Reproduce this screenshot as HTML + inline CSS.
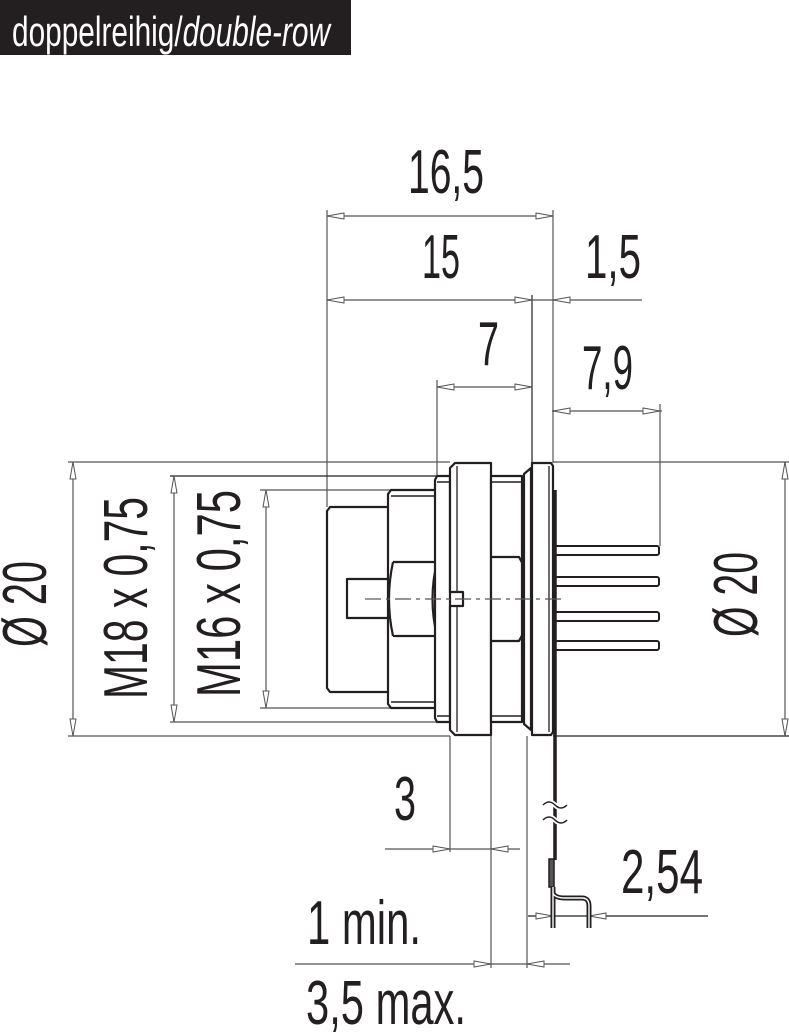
<!DOCTYPE html>
<html><head><meta charset="utf-8"><style>
html,body{margin:0;padding:0;background:#fff;width:789px;height:1034px;overflow:hidden}
svg{display:block}
text{font-family:"Liberation Sans",sans-serif;fill:#231f20}
</style></head><body>
<svg width="789" height="1034" viewBox="0 0 789 1034" xmlns="http://www.w3.org/2000/svg">
<rect x="0" y="0" width="351" height="55" fill="#231f20"/>
<text x="12" y="46" font-size="42" style="fill:#fff" textLength="318" lengthAdjust="spacingAndGlyphs">doppelreihig/<tspan font-style="italic">double-row</tspan></text>

<g stroke="#555" stroke-width="1.2" fill="none">
<line x1="327" y1="210" x2="327" y2="507"/>
<line x1="553" y1="210" x2="553" y2="463"/>
<line x1="532" y1="295" x2="532" y2="463" stroke="#222"/>
<line x1="437" y1="380" x2="437" y2="477"/>
<line x1="660" y1="404" x2="660" y2="546"/>
<line x1="327" y1="216" x2="553" y2="216"/>
<line x1="327" y1="300" x2="532" y2="300"/>
<line x1="532" y1="300" x2="642" y2="300"/>
<line x1="437" y1="387" x2="532" y2="387"/>
<line x1="552" y1="411" x2="662" y2="411"/>
<line x1="68" y1="462" x2="450" y2="462"/>
<line x1="68" y1="736" x2="450" y2="736"/>
<line x1="73" y1="462" x2="73" y2="736"/>
<line x1="170" y1="476" x2="437" y2="476" stroke="#222"/>
<line x1="170" y1="722" x2="437" y2="722"/>
<line x1="174" y1="476" x2="174" y2="722"/>
<line x1="260" y1="490" x2="390" y2="490"/>
<line x1="260" y1="708" x2="390" y2="708"/>
<line x1="266" y1="490" x2="266" y2="708"/>
<line x1="553" y1="462" x2="790" y2="462"/>
<line x1="553" y1="736" x2="790" y2="736" stroke="#222"/>
<line x1="785" y1="462" x2="785" y2="736"/>
<line x1="450" y1="736" x2="450" y2="852"/>
<line x1="491" y1="736" x2="491" y2="968"/>
<line x1="527" y1="736" x2="527" y2="968"/>
<line x1="385" y1="849" x2="520" y2="849"/>
<line x1="528" y1="916" x2="708" y2="916" stroke="#222"/>
<line x1="295" y1="964" x2="570" y2="964"/>
</g>

<g fill="#fff" stroke="#555" stroke-width="1">
<path d="M327,216 l17,-3 v6z"/><path d="M553,216 l-17,-3 v6z"/>
<path d="M327,300 l17,-3 v6z"/><path d="M532,300 l-17,-3 v6z"/>
<path d="M553,300 l17,-3 v6z"/>
<path d="M437,387 l17,-3 v6z"/><path d="M532,387 l-17,-3 v6z"/>
<path d="M553,411 l17,-3 v6z"/><path d="M660,411 l-17,-3 v6z"/>
<path d="M73,462 l-3,17 h6z"/><path d="M73,736 l-3,-17 h6z"/>
<path d="M174,476 l-3,17 h6z"/><path d="M174,722 l-3,-17 h6z"/>
<path d="M266,490 l-3,17 h6z"/><path d="M266,708 l-3,-17 h6z"/>
<path d="M785,462 l-3,17 h6z"/><path d="M785,736 l-3,-17 h6z"/>
<path d="M450,849 l-17,-3 v6z"/><path d="M491,849 l17,-3 v6z"/>
<path d="M553,916 l-17,-3 v6z"/><path d="M589,916 l17,-3 v6z"/>
<path d="M491,964 l-17,-3 v6z"/><path d="M527,964 l17,-3 v6z"/>
</g>

<g stroke="#231f20" stroke-width="2.2" fill="#fff" stroke-linejoin="round">
<path d="M390,507 H330 L327,511 V688 L330,692 H390"/>
<rect x="347" y="579" width="42" height="39"/>
<path d="M391,490 H436 V708 H391 L388,704 V494 Z"/>
<line x1="391" y1="496" x2="436" y2="496" stroke-width="1.5"/>
<line x1="391" y1="702" x2="436" y2="702" stroke-width="1.5"/>
<path d="M393,562 H437 M393,636 H437" />
<path d="M393,562 Q385,599 393,636" fill="none"/>
<path d="M437,562 Q428,599 437,636" fill="none"/>
<path d="M437,476 H450 V722 H437 L435,718 V480 Z"/>
<line x1="437" y1="482" x2="450" y2="482" stroke-width="1.5"/>
<line x1="437" y1="716" x2="450" y2="716" stroke-width="1.5"/>
<path d="M455,463 H491 V735 H455 L450,730 V606 H463 V592 H450 V468 Z"/>
<line x1="457" y1="466" x2="457" y2="592" stroke-width="1.3"/>
<line x1="457" y1="606" x2="457" y2="732" stroke-width="1.3"/>
<path d="M491,476 H522 V722 H491 Z"/>
<line x1="491" y1="482" x2="522" y2="482" stroke-width="1.5"/>
<line x1="491" y1="716" x2="522" y2="716" stroke-width="1.5"/>
<path d="M491,557 H519 L526,570 V628 L519,641 H491" fill="none"/>
<path d="M524,474 L531,468 V730 L524,724 Z"/>
<path d="M532,463 H551 L553,466 V732 L551,735 H532 Z"/>
<line x1="549" y1="466" x2="549" y2="732" stroke-width="1.3"/>
<g stroke-width="2">
<rect x="555" y="546" width="104" height="9" rx="2"/>
<rect x="555" y="577" width="104" height="9" rx="2"/>
<rect x="555" y="612" width="104" height="9" rx="2"/>
<rect x="555" y="641" width="104" height="9" rx="2"/>
</g>
</g>
<line x1="555" y1="490" x2="555" y2="860" stroke="#231f20" stroke-width="3.5"/>
<rect x="549" y="859" width="5" height="28" fill="#555" stroke="#231f20" stroke-width="1.5"/>
<path d="M553,887 V928 M553,893 Q555,898 565,898 H582 Q589,898 589,906 V928" stroke="#231f20" stroke-width="5" fill="none"/>
<path d="M553,887 V928 M553,893 Q555,898 565,898 H582 Q589,898 589,906 V928" stroke="#fff" stroke-width="1.4" fill="none"/>
<path d="M543,805 q6,-6 12,0 t12,0 M543,820 q6,-6 12,0 t12,0" stroke="#fff" stroke-width="5" fill="none"/>
<path d="M543,805 q6,-6 12,0 t12,0 M543,820 q6,-6 12,0 t12,0" stroke="#231f20" stroke-width="1.5" fill="none"/>
<line x1="365" y1="599" x2="565" y2="599" stroke="#555" stroke-width="1.2" stroke-dasharray="16,5,4,5"/>

<g font-size="62">
<text x="408" y="193" textLength="76" lengthAdjust="spacingAndGlyphs">16,5</text>
<text x="422" y="278" textLength="38" lengthAdjust="spacingAndGlyphs">15</text>
<text x="585" y="278" textLength="56" lengthAdjust="spacingAndGlyphs">1,5</text>
<text x="478" y="365" textLength="21" lengthAdjust="spacingAndGlyphs">7</text>
<text x="582" y="389" textLength="51" lengthAdjust="spacingAndGlyphs">7,9</text>
<text x="394" y="820" textLength="22" lengthAdjust="spacingAndGlyphs">3</text>
<text x="621" y="893" textLength="82" lengthAdjust="spacingAndGlyphs">2,54</text>
<text x="307" y="944" textLength="114" lengthAdjust="spacingAndGlyphs">1 min.</text>
<text x="306" y="1024" textLength="160" lengthAdjust="spacingAndGlyphs">3,5 max.</text>
<text transform="translate(46,647) rotate(-90)" textLength="86" lengthAdjust="spacingAndGlyphs">Ø 20</text>
<text transform="translate(147,699) rotate(-90)" textLength="202" lengthAdjust="spacingAndGlyphs">M18 x 0,75</text>
<text transform="translate(240,697) rotate(-90)" textLength="207" lengthAdjust="spacingAndGlyphs">M16 x 0,75</text>
<text transform="translate(757,637) rotate(-90)" textLength="85" lengthAdjust="spacingAndGlyphs">Ø 20</text>
</g>
</svg>
</body></html>
